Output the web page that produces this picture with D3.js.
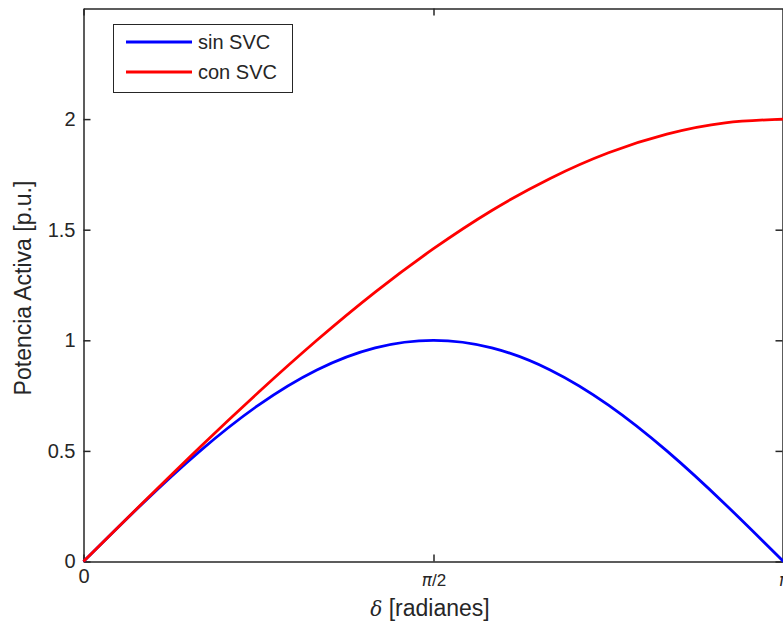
<!DOCTYPE html>
<meta charset="utf-8">
<head>
  <style>
    body { margin: 0; background: #fff; }
    svg { display: block; font-family: "Liberation Sans", Arial, sans-serif; }
    .tick text { fill: #262626; font-size: 20px; }
    .tick line, .domain { stroke: #262626; }
  </style>
</head>
<body>
  <script src="https://d3js.org/d3.v7.min.js"></script>
  <script>
    // delta sampled at k*pi/12, k = 0..12
    const deltaSteps = [0, 1, 2, 3, 4, 5, 6, 7, 8, 9, 10, 11, 12];
    const sinSVC = [0, 0.259, 0.500, 0.707, 0.866, 0.966, 1.000, 0.966, 0.866, 0.707, 0.500, 0.259, 0];
    const conSVC = [0, 0.261, 0.518, 0.765, 1.000, 1.218, 1.414, 1.587, 1.732, 1.848, 1.932, 1.983, 2.000];
    const yTicks = [0, 0.5, 1, 1.5, 2];
    const xTicks = [0, Math.PI / 2, Math.PI];
    const xTickLabels = ["0", "π/2", "π"];
    const seriesNames = ["sin SVC", "con SVC"];
    const seriesColors = ["#0000ff", "#ff0000"];

    const W = 783, H = 625;
    const mLeft = 83.5, mRight = 783.5, mTop = 8.5, mBottom = 561.5;

    const svg = d3.select("body").append("svg")
      .attr("width", W).attr("height", H);

    const x = d3.scaleLinear().domain([0, Math.PI]).range([mLeft, mRight]);
    const y = d3.scaleLinear().domain([0, 2.5]).range([mBottom, mTop]);

    const fmt = d => xTickLabels[xTicks.indexOf(d)];

    // bottom axis
    svg.append("g").attr("transform", `translate(0,${mBottom})`)
      .call(d3.axisBottom(x).tickValues(xTicks).tickFormat(fmt).tickSizeInner(-7).tickSizeOuter(0).tickPadding(7))
      .call(g => g.selectAll(".tick text").filter(d => d !== 0)
        .style("font-size", "17px").attr("dy", "1em")
        .html(d => fmt(d).replace("π", "<tspan font-style='italic' font-family='DejaVu Sans, sans-serif'>π</tspan>")));
    // top axis
    svg.append("g").attr("transform", `translate(0,${mTop})`)
      .call(d3.axisTop(x).tickValues(xTicks).tickFormat("").tickSizeInner(-7).tickSizeOuter(0));
    // left axis
    svg.append("g").attr("transform", `translate(${mLeft},0)`)
      .call(d3.axisLeft(y).tickValues(yTicks).tickFormat(d3.format("")).tickSizeInner(-7).tickSizeOuter(0).tickPadding(8));
    // right axis
    svg.append("g").attr("transform", `translate(${mRight - 1},0)`)
      .call(d3.axisRight(y).tickValues(yTicks).tickFormat("").tickSizeInner(-7).tickSizeOuter(0));

    svg.selectAll(".domain").attr("stroke-width", 1.5);
    svg.selectAll(".tick line").attr("stroke-width", 1.5);

    const line = d3.line()
      .x((d, i) => x(deltaSteps[i] * Math.PI / 12))
      .y(d => y(d))
      .curve(d3.curveNatural);

    [sinSVC, conSVC].forEach((s, i) => {
      svg.append("path")
        .attr("d", line(s))
        .attr("fill", "none")
        .attr("stroke", seriesColors[i])
        .attr("stroke-width", 2.8);
    });

    // legend
    const lg = svg.append("g");
    lg.append("rect").attr("x", 113.5).attr("y", 24.5).attr("width", 179).attr("height", 68)
      .attr("fill", "#fff").attr("stroke", "#262626").attr("stroke-width", 1);
    seriesNames.forEach((n, i) => {
      const yy = 42 + i * 30;
      lg.append("line").attr("x1", 126).attr("x2", 192).attr("y1", yy).attr("y2", yy)
        .attr("stroke", seriesColors[i]).attr("stroke-width", 2.8);
      lg.append("text").attr("x", 198).attr("y", yy + 7).text(n)
        .attr("font-size", 20).attr("fill", "#262626");
    });

    // axis labels
    const xl = svg.append("text").attr("x", 430).attr("y", 616).attr("text-anchor", "middle")
      .attr("font-size", 23).attr("fill", "#262626");
    xl.append("tspan").text("δ").style("font-style", "italic").style("font-family", "'DejaVu Serif', serif").attr("font-size", 20);
    xl.append("tspan").text(" [radianes]");

    svg.append("text")
      .attr("transform", "translate(31,288) rotate(-90)")
      .attr("text-anchor", "middle").attr("font-size", 23).attr("fill", "#262626")
      .text("Potencia Activa [p.u.]");
  </script>
</body>
